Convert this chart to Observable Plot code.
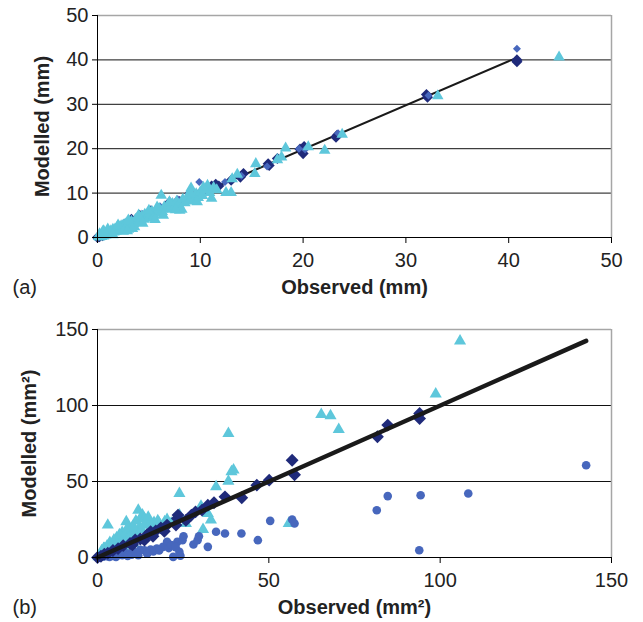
<!DOCTYPE html>
<html>
<head>
<meta charset="utf-8">
<script src="https://cdn.jsdelivr.net/npm/d3@7"></script>
<script src="https://cdn.jsdelivr.net/npm/@observablehq/plot@0.6"></script>
<style>
  html, body { margin: 0; padding: 0; background: #fff; }
  #chart { width: 643px; height: 622px; position: relative; }
  #chart svg { display: block; }
</style>
</head>
<body>
<div id="chart"></div>
<script>
// ---------- Panel (a): depth (mm) ----------
const aXTicks = [0, 10, 20, 30, 40, 50];
const aYTicks = [0, 10, 20, 30, 40, 50];
const aGrid = [10, 20, 30, 40];
const aFit = [[0, 0], [40.7, 40.4]];
const aNavy = [[0,0],[0.2,0.2],[0.5,0.4],[0.8,0.8],[1.2,1.1],[1.6,1.6],[2.0,2.0],[2.5,2.4],[3.0,3.0],[3.5,3.4],[4.0,4.0],[4.5,4.4],[5.0,5.0],[5.6,5.5],[6.2,6.1],[6.8,6.9],[7.4,7.2],[8.0,8.1],[8.6,8.4],[9.3,9.0],[9.8,9.6],[10.4,10.5],[11.1,11.6],[11.5,12.0],[11.8,11.6],[13.0,12.9],[13.9,13.6],[14.2,14.4],[16.6,16.6],[16.7,16.2],[17.5,17.8],[19.7,19.9],[20.0,18.9],[20.1,20.5],[23.3,23.0],[23.2,22.6],[32.1,31.6],[32.0,32.2],[40.8,39.6],[40.8,40.0],[3.3,4.1],[5.2,6.0],[7.0,7.9],[9.0,9.9],[4.1,5.0]];
const aMedium = [[0.3,0.5],[0.9,0.7],[1.5,1.4],[2.2,2.3],[2.9,2.6],[3.4,3.7],[4.1,3.6],[4.7,4.9],[5.4,5.2],[6.1,7.0],[6.6,6.4],[7.2,7.0],[8.1,8.0],[8.8,8.7],[9.5,9.6],[9.9,12.5],[10.3,9.9],[11.2,10.9],[12.4,12.5],[14.0,13.9],[16.5,16.0],[19.6,20.0],[20.2,19.8],[23.4,23.5],[32.2,32.0],[40.8,42.5],[2.6,3.3],[4.4,5.3],[6.0,6.9],[7.8,8.6]];
const aCyan = [[0.1,0.2],[0.2,0.1],[0.3,0.4],[0.4,0.2],[0.5,0.6],[0.6,0.3],[0.7,0.9],[0.8,0.5],[0.9,1.1],[1.0,0.7],[1.1,1.3],[1.2,0.9],[1.3,1.5],[1.4,1.0],[1.5,1.8],[1.6,1.2],[1.7,1.9],[1.8,1.4],[1.9,2.2],[2.0,1.7],[2.1,2.4],[2.2,1.9],[2.3,2.6],[2.4,2.0],[2.5,2.8],[2.6,2.3],[2.7,3.0],[2.8,2.5],[3.0,3.3],[3.0,1.8],[3.2,2.8],[3.3,3.6],[3.5,3.1],[3.6,2.4],[3.7,4.0],[3.9,3.5],[4.0,4.4],[4.2,3.8],[4.3,4.8],[4.5,4.1],[4.6,5.2],[4.8,4.5],[5.0,5.4],[5.1,4.8],[5.3,5.8],[5.5,5.1],[5.7,6.0],[5.9,5.5],[6.0,6.5],[6.2,9.5],[6.3,5.8],[6.5,6.9],[6.7,6.3],[6.9,7.3],[7.1,6.6],[7.3,7.6],[7.5,7.0],[7.7,8.1],[7.9,7.4],[8.0,6.1],[8.2,6.3],[8.3,8.6],[8.5,7.8],[8.7,8.9],[8.9,8.2],[9.1,11.1],[9.2,9.3],[9.4,8.5],[9.6,9.8],[9.8,9.0],[10.0,10.2],[10.2,9.4],[10.5,10.8],[10.7,11.7],[10.9,10.1],[11.1,8.8],[11.3,11.2],[11.6,10.7],[12.5,10.1],[13.0,10.1],[13.1,13.2],[13.6,14.2],[15.3,14.4],[15.4,16.6],[17.5,17.5],[17.9,18.1],[18.3,20.1],[20.5,20.4],[22.1,19.6],[23.8,23.2],[33.1,31.9],[44.9,40.6],[0.5,1.3],[1.0,1.9],[1.5,0.6],[2.0,2.8],[2.5,1.4],[3.0,3.9],[3.4,2.0],[4.0,5.0],[4.4,3.2],[5.0,6.1],[5.4,4.3],[5.8,6.8],[6.4,5.0],[7.0,8.0],[7.6,6.2],[9.0,10.2],[9.7,8.0],[10.3,11.3],[2.9,1.5],[5.6,4.0],[0.2,0.8],[0.6,1.5]];

// ---------- Panel (b): area (mm²) ----------
const bXTicks = [0, 50, 100, 150];
const bYTicks = [0, 50, 100, 150];
const bGrid = [50, 100];
const bFit = [[0, 0], [142.6, 142.5]];
const bNavy = [[0,0],[1,0.8],[2,2.2],[3,2.8],[4.5,4.6],[6,5.8],[7.5,7.8],[9.5,9.2],[11,11.5],[12.5,12.2],[13.7,11.4],[14.5,15],[15.5,16.9],[17,17.5],[18.5,19.5],[20.3,21.3],[22.9,21.3],[23.3,25.7],[23.5,27.9],[27.4,27.9],[28.6,30.0],[32.2,34.4],[34.0,36.0],[37.2,39.9],[42.1,39.3],[46.5,47.6],[50.1,50.9],[56.8,64.0],[57.5,54.4],[81.7,79.4],[84.7,87.1],[94.0,91.4],[94.0,94.7],[10.2,8.4],[16.2,14.0],[19.5,17.2],[25.8,24.4],[30.5,31.2]];
const bCircle = [[0.5,0.2],[1.5,0.5],[2.5,0.8],[3.5,0.3],[4.5,1.0],[5.4,0.4],[6.3,1.8],[7.2,1.5],[8.2,3.0],[9.5,2.6],[10.5,4.0],[11.9,1.5],[12.5,5.0],[13.7,4.8],[15.5,5.3],[17.3,5.9],[19.1,7.0],[20.3,10.3],[22.1,0.4],[23.9,3.7],[23.3,10.3],[24.8,11.4],[25.1,14.0],[28.0,8.6],[29.2,11.4],[29.6,14.0],[32.2,7.0],[34.6,16.9],[37.2,15.8],[42.0,15.8],[46.8,11.4],[50.4,24.1],[56.8,25.0],[57.5,22.4],[81.5,31.1],[84.7,40.4],[93.9,4.8],[94.3,41.0],[108.2,42.1],[142.6,60.7],[3.0,1.6],[5.0,2.2],[6.8,3.6],[8.8,1.0],[10.0,1.8],[11.2,3.2],[14.5,2.5],[16.3,4.0],[18.0,4.6],[20.8,6.2],[21.5,8.2],[22.8,6.8],[24.2,1.2]];
const bCyan = [[0.3,0.5],[0.6,1.2],[1.0,2.0],[1.3,0.8],[1.6,3.0],[2.0,2.5],[2.3,4.2],[2.6,1.5],[3.0,21.3],[3.0,5.0],[3.4,3.2],[3.8,6.5],[4.2,4.5],[4.5,8.0],[5.0,6.0],[5.4,9.5],[5.8,3.0],[6.2,11.0],[6.6,7.5],[7.0,12.5],[7.5,9.0],[8.0,5.5],[8.4,23.5],[8.5,14.0],[9.0,11.0],[9.5,18.0],[10.0,15.5],[10.5,9.0],[11.0,17.0],[11.5,13.0],[11.9,31.1],[12.3,20.0],[12.6,26.0],[13.1,27.9],[13.7,25.7],[14.2,22.0],[15.0,24.0],[15.8,21.5],[16.5,23.0],[17.2,20.5],[18.0,22.5],[19.0,21.0],[20.3,25.0],[21.5,22.5],[23.9,27.9],[23.9,42.1],[25.8,22.4],[30.2,33.8],[30.8,18.4],[32.2,28.9],[33.1,24.6],[34.6,46.5],[38.2,50.2],[38.2,81.6],[39.1,56.4],[39.7,57.5],[55.8,22.4],[65.3,94.1],[68.0,93.2],[70.4,84.2],[98.7,107.5],[105.8,142.5],[1.8,6.0],[2.8,7.5],[3.6,9.8],[4.8,11.5],[5.6,13.0],[6.4,15.0],[7.2,16.5],[7.8,14.2],[8.8,19.5],[10.4,20.8],[11.2,24.0],[12.8,18.5],[13.5,21.2],[14.8,26.5],[16.0,18.2],[17.6,24.2],[19.6,23.5],[5.2,7.0],[6.9,9.8],[9.2,13.2],[4.0,3.0],[2.0,6.0],[1.2,4.4]];

const labels = {
  aX: "Observed (mm)", aY: "Modelled (mm)", aTag: "(a)",
  bX: "Observed (mm²)", bY: "Modelled (mm²)", bTag: "(b)"
};

const NAVY = "#1f2a7a", MED = "#4767bd", CYAN = "#5ec7db";
const FONT = "'Liberation Sans', Arial, sans-serif";
const FS = 20;

function panel({xMax, yMax, xTicks, yTicks, grid, fit, fitWidth, series, lineOnTop, xLabel, yLabel, tag, height, marginTop, marginBottom, yLabelDx}) {
  const line = Plot.line(fit, {x: d => d[0], y: d => d[1], stroke: "#1a1a1a", strokeWidth: fitWidth});
  const marks = [
    Plot.ruleY(grid, {stroke: "#111", strokeWidth: 1}),
    Plot.ruleY([yMax], {stroke: "#a6a6a6", strokeWidth: 1.5}),
    Plot.ruleX([xMax], {stroke: "#a6a6a6", strokeWidth: 1.5}),
    ...(lineOnTop ? [] : [line]),
    ...series.map(s => Plot.dot(s.data, {x: d => d[0], y: d => d[1], symbol: s.symbol, fill: s.fill, r: s.r})),
    ...(lineOnTop ? [line] : []),
    Plot.ruleX([0], {stroke: "#000", strokeWidth: 1}),
    Plot.ruleY([0], {stroke: "#000", strokeWidth: 1}),
    Plot.axisX({ticks: xTicks, tickSize: 6, tickPadding: 9, fontSize: FS, label: null, stroke: "#000"}),
    Plot.axisY({ticks: yTicks, tickSize: 5, tickPadding: 4, fontSize: FS, label: null, stroke: "#000"}),
    Plot.text([xLabel], {text: d => d, frameAnchor: "bottom", dy: 50, textAnchor: "middle", lineAnchor: "middle", fontSize: FS, fontWeight: "bold"}),
    Plot.text([yLabel], {text: d => d, frameAnchor: "left", dx: yLabelDx, rotate: -90, textAnchor: "middle", lineAnchor: "middle", fontSize: FS, fontWeight: "bold"}),
    Plot.text([tag], {text: d => d, frameAnchor: "bottom-left", dx: -85, dy: 50, textAnchor: "start", lineAnchor: "middle", fontSize: FS})
  ];
  return Plot.plot({
    width: 643, height, marginLeft: 97, marginRight: 32, marginTop, marginBottom,
    style: {fontFamily: FONT, fontSize: FS + "px", color: "#222", background: "#fff", overflow: "visible"},
    x: {domain: [0, xMax]},
    y: {domain: [0, yMax]},
    marks
  });
}

const chart = document.getElementById("chart");
chart.append(panel({
  xMax: 50, yMax: 50, xTicks: aXTicks, yTicks: aYTicks, grid: aGrid, fit: aFit, fitWidth: 2,
  series: [
    {data: aNavy, symbol: "diamond2", fill: NAVY, r: 5},
    {data: aMedium, symbol: "diamond2", fill: MED, r: 3.6},
    {data: aCyan, symbol: "triangle", fill: CYAN, r: 4.3}
  ],
  lineOnTop: false, xLabel: labels.aX, yLabel: labels.aY, tag: labels.aTag,
  height: 310, marginTop: 15, marginBottom: 73, yLabelDx: -55
}));
chart.append(panel({
  xMax: 150, yMax: 150, xTicks: bXTicks, yTicks: bYTicks, grid: bGrid, fit: bFit, fitWidth: 4.5,
  series: [
    {data: bCyan, symbol: "triangle", fill: CYAN, r: 4.5},
    {data: bCircle, symbol: "circle", fill: MED, r: 4.3},
    {data: bNavy, symbol: "diamond2", fill: NAVY, r: 5.8}
  ],
  lineOnTop: true, xLabel: labels.bX, yLabel: labels.bY, tag: labels.bTag,
  height: 312, marginTop: 19, marginBottom: 65, yLabelDx: -68
}));
</script>
</body>
</html>
